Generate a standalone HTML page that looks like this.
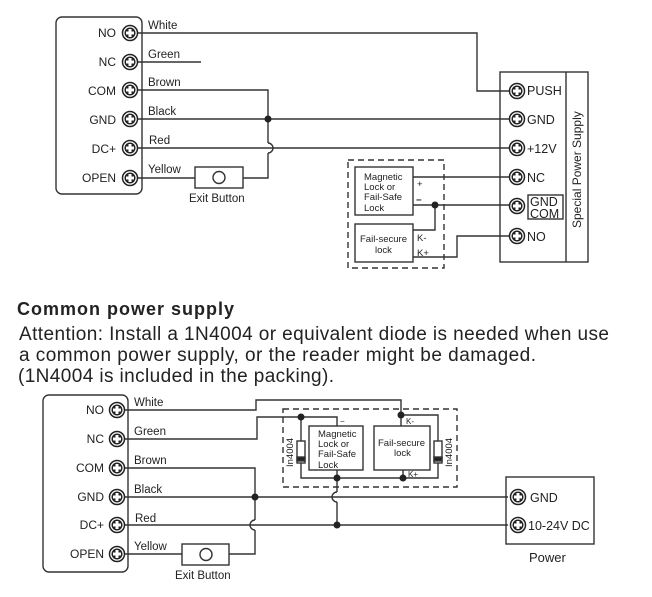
<!DOCTYPE html>
<html><head><meta charset="utf-8"><style>
html,body{margin:0;padding:0;background:#fff;}
svg{display:block;}
text{font-family:"Liberation Sans",Arial,sans-serif;fill:#222;}
</style></head><body>
<svg width="652" height="597" viewBox="0 0 652 597" xmlns="http://www.w3.org/2000/svg">
<defs>
<g id="t"><circle r="7.5" fill="#fff" stroke="#222" stroke-width="1.5"/><circle r="5.5" fill="#222"/><rect x="-1.5" y="-4" width="3" height="8" fill="#fff"/><rect x="-4" y="-1.5" width="8" height="3" fill="#fff"/></g>
</defs>
<g fill="none" stroke="#333" stroke-width="1.4">
<rect x="56" y="17" width="86" height="177" rx="6"/>
<polyline points="130,33 477,33 477,91 517,91"/>
<line x1="130" y1="62" x2="201" y2="62"/>
<polyline points="130,90 268,90 268,143"/>
<path d="M268,143 a5,5 0 0 1 0,10"/>
<polyline points="268,153 268,178 243,178"/>
<line x1="130" y1="119" x2="517" y2="119"/>
<line x1="130" y1="148" x2="517" y2="148"/>
<line x1="130" y1="178" x2="195" y2="178"/>
<rect x="195" y="167" width="48" height="21"/>
<circle cx="219" cy="177.5" r="6"/>
<rect x="500" y="72" width="88" height="190"/>
<line x1="566" y1="72" x2="566" y2="262"/>
<rect x="528" y="195" width="35" height="24"/>
<rect x="348" y="160" width="96" height="108" stroke-dasharray="6,4"/>
<rect x="355" y="167" width="58" height="48"/>
<rect x="355" y="224" width="58" height="38"/>
<line x1="413" y1="177" x2="517" y2="177"/>
<line x1="413" y1="205" x2="517" y2="205"/>
<polyline points="435,205 435,230 413,230"/>
<polyline points="413,257 457,257 457,236 517,236"/>
<rect x="43" y="395" width="85" height="177" rx="6"/>
<polyline points="117,410 256,410 256,400 401,400 401,426"/>
<polyline points="117,439 257,439 257,417 337,417 337,426"/>
<rect x="283" y="409" width="174" height="78" stroke-dasharray="6,4"/>
<rect x="309" y="426" width="54" height="44"/>
<rect x="374" y="426" width="56" height="44"/>
<polyline points="301,417 301,478 438,478 438,415 401,415"/>
<line x1="337" y1="470" x2="337" y2="492"/>
<path d="M337,492 a5,5 0 0 0 0,10"/>
<line x1="337" y1="502" x2="337" y2="525"/>
<line x1="403" y1="470" x2="403" y2="478"/>
<polyline points="117,468 255,468 255,520"/>
<path d="M255,520 a5,5 0 0 0 0,10"/>
<polyline points="255,530 255,554 229,554"/>
<line x1="117" y1="497" x2="508" y2="497"/>
<line x1="117" y1="525" x2="508" y2="525"/>
<line x1="117" y1="554" x2="182" y2="554"/>
<rect x="182" y="544" width="47" height="21"/>
<circle cx="206" cy="554.5" r="6"/>
<rect x="506" y="477" width="88" height="67"/>
</g>
<g stroke="#333" stroke-width="1.4">
<rect x="297" y="441" width="8" height="22" fill="#fff"/><rect x="297" y="457" width="8" height="4" fill="#222"/>
<rect x="434" y="441" width="8" height="22" fill="#fff"/><rect x="434" y="457" width="8" height="4" fill="#222"/>
</g>
<g fill="#222">
<circle cx="268" cy="119" r="3.5"/><circle cx="435" cy="205" r="3.5"/>
<circle cx="301" cy="417" r="3.5"/><circle cx="401" cy="415" r="3.5"/>
<circle cx="337" cy="478" r="3.5"/><circle cx="403" cy="478" r="3.5"/>
<circle cx="255" cy="497" r="3.5"/><circle cx="337" cy="525" r="3.5"/>
</g>
<use href="#t" x="130" y="33"/><use href="#t" x="130" y="62"/><use href="#t" x="130" y="90"/>
<use href="#t" x="130" y="119"/><use href="#t" x="130" y="148"/><use href="#t" x="130" y="178"/>
<use href="#t" x="517" y="91"/><use href="#t" x="517" y="119"/><use href="#t" x="517" y="148"/>
<use href="#t" x="517" y="177"/><use href="#t" x="517" y="206"/><use href="#t" x="517" y="236"/>
<use href="#t" x="117" y="410"/><use href="#t" x="117" y="439"/><use href="#t" x="117" y="468"/>
<use href="#t" x="117" y="497"/><use href="#t" x="117" y="525"/><use href="#t" x="117" y="554"/>
<use href="#t" x="518" y="497"/><use href="#t" x="518" y="525"/>
<g font-size="12" text-anchor="end">
<text x="116" y="37">NO</text><text x="116" y="66">NC</text><text x="116" y="95">COM</text>
<text x="116" y="124">GND</text><text x="116" y="153">DC+</text><text x="116" y="182">OPEN</text>
<text x="104" y="414">NO</text><text x="104" y="443">NC</text><text x="104" y="472">COM</text>
<text x="104" y="501">GND</text><text x="104" y="529">DC+</text><text x="104" y="558">OPEN</text>
</g>
<g font-size="11.5">
<text x="148" y="29">White</text><text x="148" y="58">Green</text><text x="148" y="86">Brown</text>
<text x="148" y="115">Black</text><text x="149" y="144">Red</text><text x="148" y="173">Yellow</text>
<text x="189" y="202">Exit Button</text>
<text x="134" y="406">White</text><text x="134" y="435">Green</text><text x="134" y="464">Brown</text>
<text x="134" y="493">Black</text><text x="135" y="522">Red</text><text x="134" y="550">Yellow</text>
<text x="175" y="579">Exit Button</text>
</g>
<g font-size="12.5">
<text x="527" y="95">PUSH</text><text x="527" y="124">GND</text><text x="527" y="153">+12V</text>
<text x="527" y="182">NC</text><text x="530" y="206">GND</text><text x="530" y="218">COM</text>
<text x="527" y="241">NO</text>
<text x="530" y="502">GND</text><text x="528" y="530">10-24V DC</text>
<text x="529" y="562" font-size="13">Power</text>
</g>
<text x="0" y="0" font-size="12" transform="translate(581,228) rotate(-90)">Special Power Supply</text>
<g font-size="9.5">
<text x="364" y="180">Magnetic</text><text x="364" y="190">Lock or</text><text x="364" y="200">Fail-Safe</text><text x="364" y="211">Lock</text>
<text x="360" y="242">Fail-secure</text><text x="375" y="253">lock</text>
<text x="417" y="187">+</text><text x="416" y="203" font-weight="bold">−</text>
<text x="417" y="241">K-</text><text x="417" y="256">K+</text>
<text x="318" y="437">Magnetic</text><text x="318" y="447">Lock or</text><text x="318" y="457">Fail-Safe</text><text x="318" y="468">Lock</text>
<text x="378" y="446">Fail-secure</text><text x="394" y="456">lock</text>
<text x="406" y="424" font-size="8">K-</text><text x="408" y="477" font-size="8">K+</text>
<text x="340" y="424" font-size="8">−</text>
<text x="0" y="0" transform="translate(293,467) rotate(-90)">In4004</text>
<text x="0" y="0" transform="translate(452,467) rotate(-90)">In4004</text>
</g>
<text x="17" y="315" font-size="18" font-weight="bold" textLength="217" lengthAdjust="spacing">Common power supply</text>
<g font-size="19">
<text x="19" y="340" textLength="590" lengthAdjust="spacing">Attention: Install a 1N4004 or equivalent diode is needed when use</text>
<text x="19" y="361" textLength="517" lengthAdjust="spacing">a common power supply, or the reader might be damaged.</text>
<text x="18" y="382" textLength="316" lengthAdjust="spacing">(1N4004 is included in the packing).</text>
</g>
</svg>
</body></html>
